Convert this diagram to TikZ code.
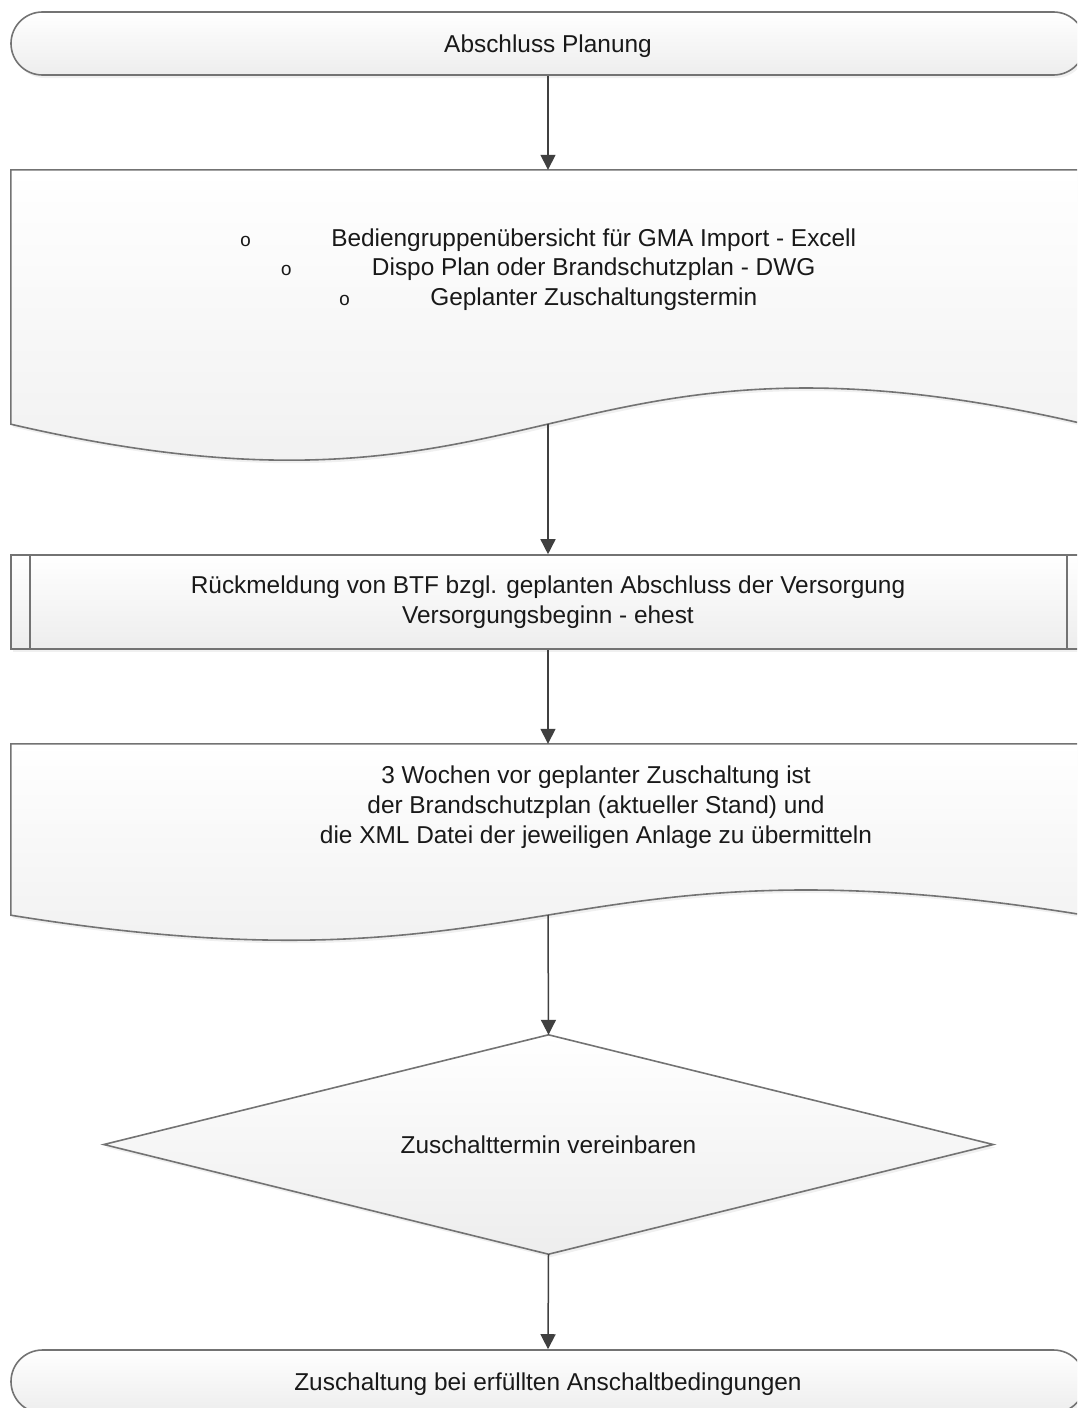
\documentclass[tikz,border=0pt]{standalone}
\usepackage{fontspec}
\setmainfont{Liberation Sans}
\newfontfamily\bulletfont{Liberation Mono}
\usetikzlibrary{arrows.meta,shapes.geometric,shadows}
\newcommand\bulletmark{{\bulletfont\fontsize{19}{19}\selectfont o}}
\begin{document}
\begin{tikzpicture}[x=1pt,y=-1pt,
  shapefill/.style={top color=white,bottom color=black!7,draw=black!55,line width=1.6pt,
    drop shadow={opacity=0.12,shadow xshift=2pt,shadow yshift=-3pt}},
  txt/.style={font=\fontsize{24.4}{30}\selectfont,text=black!90,align=center},
  term/.style={shapefill,txt,rectangle,rounded corners=31.5pt,minimum width=1074pt,minimum height=63pt,inner sep=0pt,text height=18pt,text depth=0pt},
  procbox/.style={shapefill,txt,rectangle,minimum width=1074pt,minimum height=94pt,inner sep=0pt},
  frame/.style={minimum width=1074pt,inner sep=0pt},
  conn/.style={draw=black!75,line width=1.5pt,-{Triangle[width=15pt,length=15pt]}}
]
\useasboundingbox (0,0) rectangle (1077,1408);
\clip (0,0) rectangle (1077,1408);

% Start terminal
\node[term] (term1) at (548,43.5) {Abschluss Planung};

% Document 1
\node[frame,minimum height=254pt] (doc1) at (548,297) {};
\path[shapefill] (doc1.north west) -- (doc1.north east) -- (doc1.south east)
  .. controls (548,299) and (548,549) .. (doc1.south west) -- cycle;
\coordinate (d1out) at (548,424);
\node[txt] (doc1t) at (548,269.5) {%
  \bulletmark\hspace{80pt}Bediengruppenübersicht für GMA Import - Excell\\[-0.5pt]
  \bulletmark\hspace{80pt}Dispo Plan oder Brandschutzplan - DWG\\[-0.5pt]
  \bulletmark\hspace{80pt}Geplanter Zuschaltungstermin};

% Process
\node[procbox] (proc) at (548,602) {Rückmeldung von BTF bzgl. geplanten Abschluss der Versorgung\\Versorgungsbeginn - ehest};
\draw[draw=black!55,line width=1.6pt] ([xshift=20pt]proc.north west) -- ([xshift=20pt]proc.south west);
\draw[draw=black!55,line width=1.6pt] ([xshift=-19pt]proc.north east) -- ([xshift=-19pt]proc.south east);

% Document 2
\node[frame,minimum height=171pt] (doc2) at (548,829.5) {};
\path[shapefill] (doc2.north west) -- (doc2.north east) -- (doc2.south east)
  .. controls (548,828) and (548,1002) .. (doc2.south west) -- cycle;
\coordinate (d2out) at (548,915);
\node[txt] (doc2t) at (596,807) {3 Wochen vor geplanter Zuschaltung ist\\der Brandschutzplan (aktueller Stand) und\\die XML Datei der jeweiligen Anlage zu übermitteln};

% Decision
\node[minimum width=889pt,minimum height=219pt,inner sep=0pt] (dec) at (548.5,1144.5) {};
\path[shapefill] (dec.north) -- (dec.east) -- (dec.south) -- (dec.west) -- cycle;
\node[txt] (dect) at (dec.center) {Zuschalttermin vereinbaren};

% End terminal
\node[term] (term2) at (548,1381.5) {Zuschaltung bei erfüllten Anschaltbedingungen};

% Connectors
\draw[conn] (term1.south) -- (doc1.north);
\draw[conn] (d1out) -- (proc.north);
\draw[conn] (proc.south) -- (doc2.north);
\draw[conn] (d2out) -- (dec.north);
\draw[conn] (dec.south) -- (term2.north);
\end{tikzpicture}
\end{document}
